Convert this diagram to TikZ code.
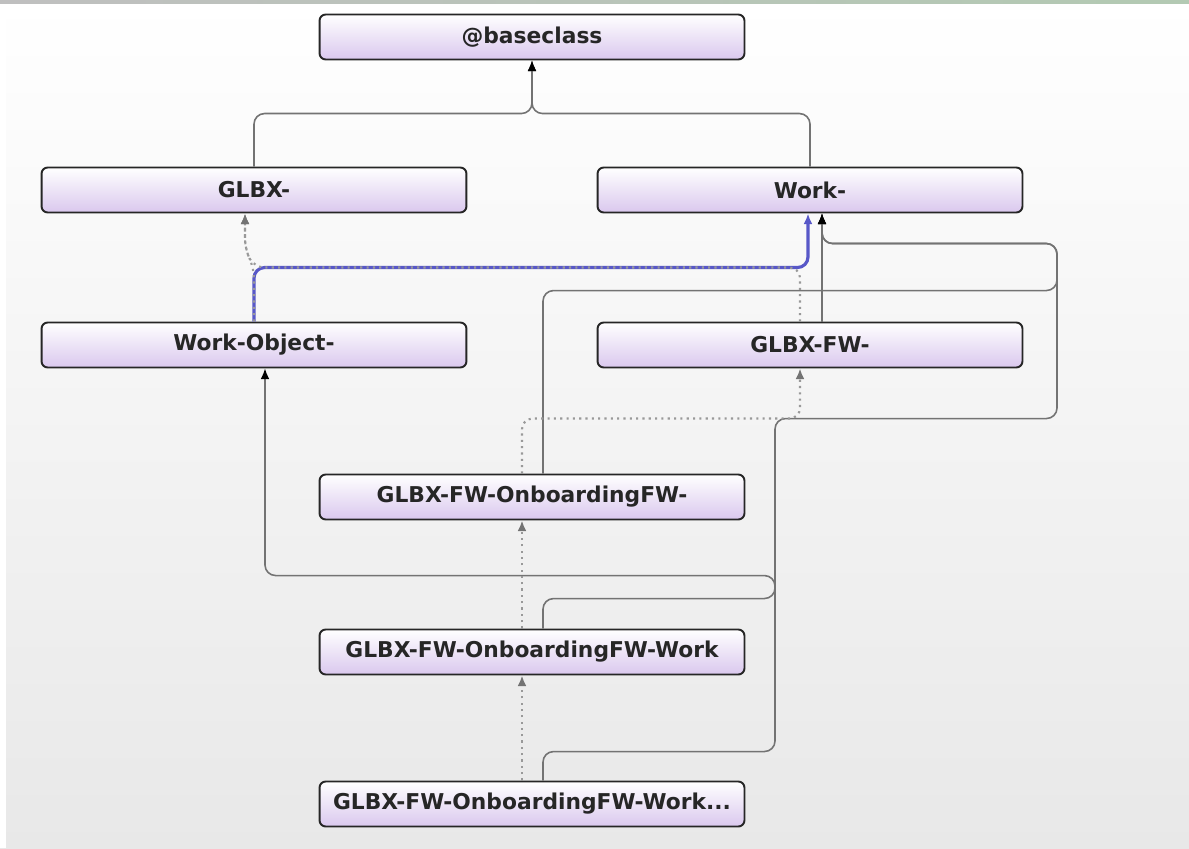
\documentclass[tikz,border=0pt]{standalone}
\usepackage{fontspec}
\setmainfont{DejaVu Sans}
\usetikzlibrary{arrows.meta}
\definecolor{lav}{RGB}{218,200,238}
\definecolor{selblue}{RGB}{88,88,200}
\begin{document}
\begin{tikzpicture}[x=0.02cm, y=-0.02cm,
  cls/.style={draw=black!85, line width=1.1pt, rounded corners=3.5pt,
    top color=white, bottom color=lav, minimum width=8.5cm, minimum height=0.9cm,
    font=\fontsize{12.4}{14}\selectfont\bfseries, text=black!85},
  link/.style={-{Latex[length=6pt,width=5pt,color=black]}, draw=black!55,
    line width=0.9pt, rounded corners=6pt},
  dotlink/.style={-{Latex[length=6pt,width=5pt,color=black!55]}, draw=black!40,
    line width=1.2pt, dash pattern=on 1.2pt off 2.4pt, rounded corners=6pt},
  sellink/.style={-{Latex[length=6pt,width=5pt,color=selblue]}, draw=selblue,
    line width=1.8pt, rounded corners=6pt}]
\useasboundingbox (0,0) rectangle (1189,848);
\shade[top color=white, bottom color=black!9] (0,0) rectangle (1189,848);
\fill[white] (0,4) rectangle (6,848);
\shade[left color=black!25, right color=green!30!black!30] (0,0) rectangle (1189,4);
% classes
\node[cls] (base) at (532,37) {@baseclass};
\node[cls] (glbx) at (254,190) {GLBX-};
\node[cls] (work) at (810,190) {Work-};
\node[cls] (wobj) at (254,345) {Work-Object-};
\node[cls] (glbxfw) at (810,345) {GLBX-FW-};
\node[cls] (onb) at (532,497) {GLBX-FW-OnboardingFW-};
\node[cls] (onbw) at (532,652) {GLBX-FW-OnboardingFW-Work};
\node[cls] (onbwx) at (532,804) {GLBX-FW-OnboardingFW-Work...};
% direct parents
\draw[link](glbx.north)--++(0,-53)-|(base.south);
\draw[link](work.north)--++(0,-53)-|(base.south);
\draw[sellink](wobj.north)--++(0,-54)-|([shift={(-2,0)}]work.south);
\draw[link]([shift={(12,0)}]glbxfw.north)--([shift={(12,0)}]work.south);
\draw[link]([shift={(11,0)}]onb.north)--++(0,-183)--++(514,0)--++(0,-47)-|([shift={(12,0)}]work.south);
\draw[link]([shift={(11,0)}]onbw.north)--++(0,-30)--++(232,0)--++(0,-23)-|([shift={(11,0)}]wobj.south);
\draw[link]([shift={(11,0)}]onbwx.north)--++(0,-29)--++(232,0)--++(0,-333)--++(282,0)--++(0,-175)-|([shift={(12,0)}]work.south);
% pattern parents
\draw[dotlink](wobj.north)--++(0,-54)--++(-9,-18)--([shift={(-9,0)}]glbx.south);
\draw[dotlink]([shift={(-10,0)}]glbxfw.north)--++(0,-54)--([shift={(0,-54)}]wobj.north)--++(-9,-18)--([shift={(-9,0)}]glbx.south);
\draw[dotlink]([shift={(-10,0)}]onb.north)--++(0,-55)-|([shift={(-10,0)}]glbxfw.south);
\draw[dotlink]([shift={(-10,0)}]onbw.north)--([shift={(-10,0)}]onb.south);
\draw[dotlink]([shift={(-10,0)}]onbwx.north)--([shift={(-10,0)}]onbw.south);
\end{tikzpicture}
\end{document}
